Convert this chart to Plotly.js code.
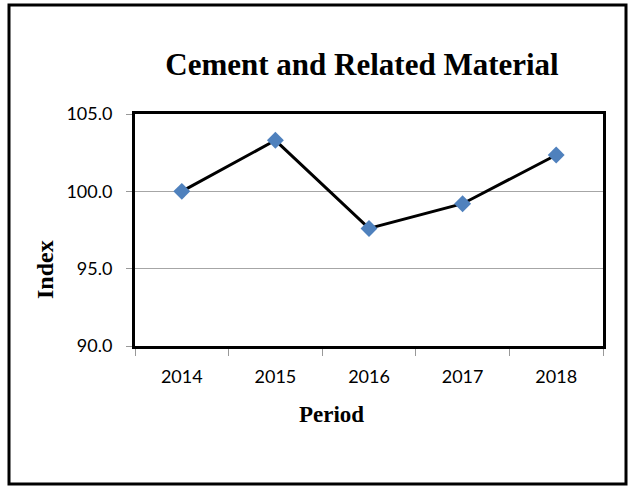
<!DOCTYPE html>
<html>
<head>
<meta charset="utf-8">
<script src="https://cdn.plot.ly/plotly-3.0.1.min.js"></script>
<style>
  html, body { margin: 0; padding: 0; background: #fff; }
  #chart { width: 634px; height: 487px; }
</style>
</head>
<body>
<div id="chart"></div>
<script>
const periods = ["2014", "2015", "2016", "2017", "2018"];
const indexValues = [100.0, 103.3, 97.6, 99.2, 102.35];
const yTickValues = [90, 95, 100, 105];
const yTickLabels = ["90.0", "95.0", "100.0", "105.0"];

const W = 634, H = 487;
const L = 135, R = 31, T = 114, B = 141;
const pw = W - L - R, ph = H - T - B;
function px(x) { return (x - L) / pw; }
function py(y) { return (H - B - y) / ph; }

const trace = {
  x: periods,
  y: indexValues,
  type: "scatter",
  mode: "lines+markers",
  line: { color: "#000000", width: 3 },
  marker: { symbol: "diamond", size: 13, color: "#4F81BD" },
  hoverinfo: "x+y"
};

const tickFont = { family: "Lato, Open Sans, sans-serif", size: 18, color: "#000" };
const serif = "Liberation Serif, Times New Roman, serif";

const layout = {
  width: W, height: H,
  margin: { l: L, r: R, t: T, b: B, pad: 0 },
  paper_bgcolor: "#ffffff",
  plot_bgcolor: "#ffffff",
  showlegend: false,
  title: {
    text: "<b>Cement and Related Material</b>",
    font: { family: serif, size: 31, color: "#000" },
    xref: "paper", x: px(362), xanchor: "center",
    yref: "container", y: 1 - 64 / H, yanchor: "middle"
  },
  xaxis: {
    type: "category",
    range: [-0.5, 4.5],
    showline: true, linecolor: "#000", linewidth: 3, mirror: true,
    ticks: "outside", tickson: "boundaries", ticklen: 7, tickcolor: "#999", tickwidth: 1,
    showgrid: false, zeroline: false,
    tickfont: tickFont,
    ticklabelstandoff: 12
  },
  yaxis: {
    range: [90, 105],
    tickvals: yTickValues, ticktext: yTickLabels,
    showline: true, linecolor: "#000", linewidth: 3, mirror: true,
    ticks: "outside", ticklen: 6, tickcolor: "#999", tickwidth: 1,
    showgrid: true, gridcolor: "#a6a6a6", gridwidth: 1, zeroline: false,
    tickfont: tickFont,
    ticklabelstandoff: 10
  },
  annotations: [
    {
      text: "<b>Index</b>", xref: "paper", yref: "paper",
      x: px(45), y: py(270), xanchor: "center", yanchor: "middle",
      textangle: -90, showarrow: false,
      font: { family: serif, size: 24, color: "#000" }
    },
    {
      text: "<b>Period</b>", xref: "paper", yref: "paper",
      x: px(331), y: py(414), xanchor: "center", yanchor: "middle",
      showarrow: false,
      font: { family: serif, size: 23, color: "#000" }
    }
  ],
  shapes: [
    {
      type: "rect", xref: "paper", yref: "paper",
      x0: px(9), x1: px(626), y0: py(5), y1: py(484),
      line: { color: "#000", width: 3 }, fillcolor: "rgba(0,0,0,0)", layer: "above"
    }
  ]
};

Plotly.newPlot("chart", [trace], layout, { displayModeBar: false, staticPlot: true });
</script>
</body>
</html>
